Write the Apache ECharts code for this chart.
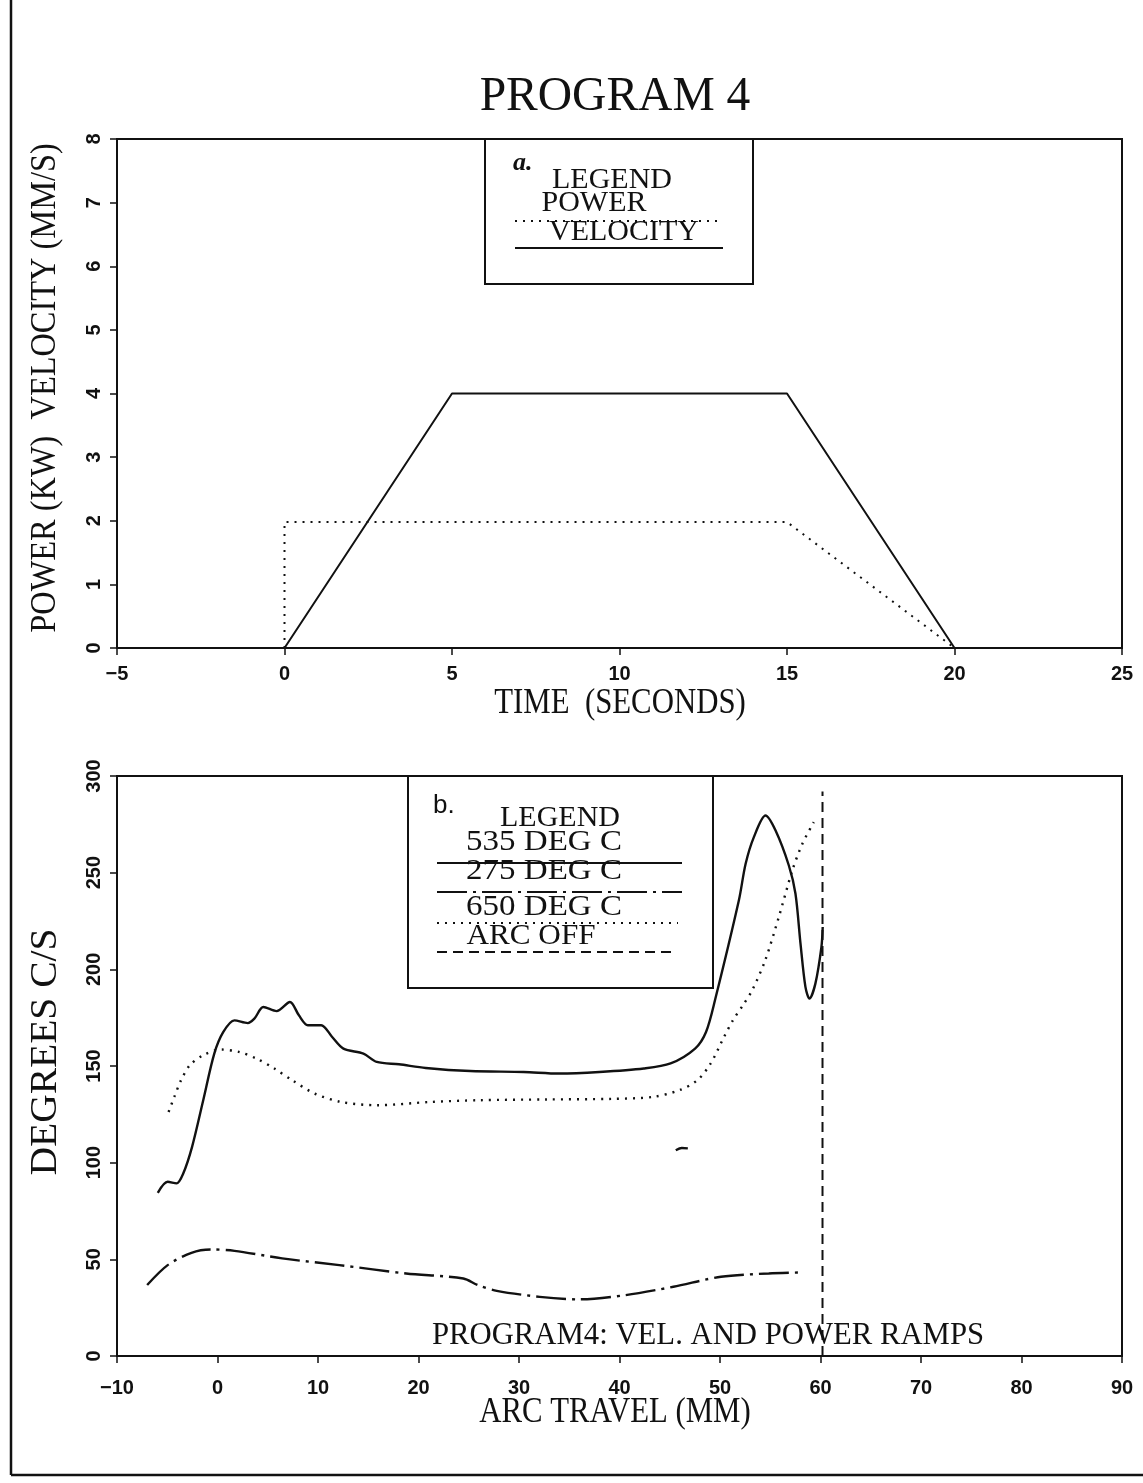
<!DOCTYPE html>
<html>
<head>
<meta charset="utf-8">
<script src="https://cdn.jsdelivr.net/npm/echarts@6/dist/echarts.min.js"></script>
<style>
  html, body { margin: 0; padding: 0; background: #fff; }
  #chart { width: 1143px; height: 1483px; }
</style>
</head>
<body>
<div id="chart"></div>
<script>
// ---- Panel a: ramp program (time in seconds) ----
const velocityPts = [[0, 0], [5, 4], [15, 4], [20, 0]];
const powerPts = [[0, 0], [0, 1.98], [15, 1.98], [20, 0]];

// ---- Panel b: cooling rate vs arc travel ----
const deg535 = [
  [-5.94, 84.4], [-4.96, 90.1], [-4.08, 89.3], [-3.41, 94.4], [-2.53, 108.2],
  [-1.42, 132.3], [-0.32, 156.4], [0.58, 167.6], [1.68, 173.6], [3.01, 172.2],
  [3.67, 174.5], [4.56, 180.5], [5.88, 178.4], [7.21, 183.1], [8.10, 176.2],
  [8.99, 171.1], [10.32, 171.1], [11.41, 165.0], [12.53, 159.0], [14.52, 156.4],
  [15.85, 152.1], [18.06, 150.9], [20.72, 149.0], [25.15, 147.4], [30.46, 146.9],
  [34.01, 146.1], [38.0, 146.9], [42.42, 148.7], [45.08, 151.3], [47.52, 159.0],
  [48.61, 167.6], [49.50, 184.0], [51.88, 235.7], [52.55, 254.6], [53.37, 268.4],
  [54.53, 279.6], [55.53, 271.8], [56.85, 253.7], [57.51, 239.1], [58.01, 213.3],
  [58.50, 190.9], [58.90, 184.9], [59.49, 192.6], [60.09, 211.5], [60.22, 221.9]
];
const deg535Fragment = [[45.6, 106.4], [46.2, 107.6], [46.8, 107.4]];
const deg275 = [
  [-7.0, 36.7], [-4.96, 47.0], [-2.59, 53.4], [-0.69, 55.1], [1.69, 54.4],
  [6.43, 50.5], [12.12, 47.0], [18.77, 42.7], [24.46, 40.1], [25.89, 36.7],
  [27.79, 33.7], [32.06, 30.6], [35.86, 29.3], [40.60, 31.5], [45.36, 35.8],
  [50.10, 41.0], [54.85, 42.7], [58.17, 43.2]
];
const deg650 = [
  [-4.87, 126.2], [-4.30, 134.0], [-3.63, 142.6], [-2.75, 150.4], [-1.42, 155.6],
  [0.35, 158.5], [2.12, 157.3], [3.90, 153.8], [5.66, 148.7], [7.44, 142.6],
  [9.65, 135.8], [12.30, 131.4], [15.85, 129.7], [21.17, 131.4], [26.04, 132.3],
  [32.68, 132.7], [39.32, 133.0], [43.31, 134.0], [45.97, 137.5], [47.74, 142.6],
  [49.07, 151.3], [50.40, 165.0], [51.28, 173.6], [52.38, 182.2], [53.2, 189.1],
  [54.5, 204.7], [55.85, 227.0], [57.2, 251.2], [58.2, 265.0], [59.33, 276.1]
];
const arcOff = [[60.2, 0], [60.2, 292]];

const SERIF = '"Liberation Serif", "Times New Roman", serif';
const SANS = '"Liberation Sans", Arial, sans-serif';
const INK = '#111';

const chart = echarts.init(document.getElementById('chart'), null, { renderer: 'canvas' });

// tick numbers use a true minus sign
const minusFmt = v => String(v).replace('-', '\u2212');

function axisCommon(min, max, interval, isY) {
  return {
    type: 'value', min: min, max: max, interval: interval,
    splitLine: { show: false },
    axisLine: { show: true, onZero: false, lineStyle: { color: INK, width: 2 } },
    axisTick: { show: true, inside: false, length: 7, lineStyle: { color: INK, width: 1.5 } },
    axisLabel: {
      color: INK, fontFamily: SANS, fontSize: 20, fontWeight: 'bold',
      formatter: minusFmt,
      rotate: isY ? 90 : 0,
      margin: isY ? 13 : 16
    }
  };
}

function label(text, x, y, size, opts) {
  opts = opts || {};
  return {
    type: 'text', x: x, y: y, z: 100,
    rotation: opts.rotation || 0,
    scaleX: opts.scaleX || 1,
    style: {
      text: text,
      font: (opts.style || 'normal') + ' ' + (opts.weight || 'normal') + ' ' + size + 'px ' + (opts.family || SERIF),
      fill: INK,
      align: opts.align || 'center',
      verticalAlign: 'middle'
    }
  };
}

function rule(x1, x2, y, dash) {
  return {
    type: 'line', z: 100,
    shape: { x1: x1, y1: y, x2: x2, y2: y },
    style: { stroke: INK, lineWidth: 2, lineDash: dash || null }
  };
}

const DOTTED = [2, 6];
const DASHDOT = [30, 6, 3, 6];
const DASHED = [10, 6];

const xTop = Object.assign(axisCommon(-5, 25, 5, false), { gridIndex: 0 });
const xBot = Object.assign(axisCommon(-10, 90, 10, false), { gridIndex: 1 });
xBot.axisLabel.margin = 22;

chart.setOption({
  backgroundColor: '#fff',
  animation: false,
  grid: [
    { left: 117, top: 139, width: 1005, height: 509, show: true, borderColor: INK, borderWidth: 2, containLabel: false },
    { left: 117, top: 776, width: 1005, height: 580, show: true, borderColor: INK, borderWidth: 2, containLabel: false }
  ],
  xAxis: [xTop, xBot],
  yAxis: [
    Object.assign(axisCommon(0, 8, 1, true), { gridIndex: 0 }),
    Object.assign(axisCommon(0, 300, 50, true), { gridIndex: 1 })
  ],
  series: [
    {
      name: 'VELOCITY', type: 'line', xAxisIndex: 0, yAxisIndex: 0,
      data: velocityPts, symbol: 'none', lineStyle: { color: INK, width: 2 }
    },
    {
      name: 'POWER', type: 'line', xAxisIndex: 0, yAxisIndex: 0,
      data: powerPts, symbol: 'none', lineStyle: { color: INK, width: 2, type: DOTTED }
    },
    {
      name: '535 DEG C', type: 'line', xAxisIndex: 1, yAxisIndex: 1,
      data: deg535, symbol: 'none', smooth: 0.3, lineStyle: { color: INK, width: 2.4 }
    },
    {
      name: '535 DEG C', type: 'line', xAxisIndex: 1, yAxisIndex: 1,
      data: deg535Fragment, symbol: 'none', smooth: 0.3, lineStyle: { color: INK, width: 2.4 }
    },
    {
      name: '275 DEG C', type: 'line', xAxisIndex: 1, yAxisIndex: 1,
      data: deg275, symbol: 'none', smooth: 0.3, lineStyle: { color: INK, width: 2.4, type: DASHDOT }
    },
    {
      name: '650 DEG C', type: 'line', xAxisIndex: 1, yAxisIndex: 1,
      data: deg650, symbol: 'none', smooth: 0.3, lineStyle: { color: INK, width: 2.4, type: DOTTED }
    },
    {
      name: 'ARC OFF', type: 'line', xAxisIndex: 1, yAxisIndex: 1,
      data: arcOff, symbol: 'none', lineStyle: { color: INK, width: 2, type: DASHED }
    }
  ],
  graphic: [
    // page frame
    { type: 'line', shape: { x1: 11, y1: 0, x2: 11, y2: 1475 }, style: { stroke: INK, lineWidth: 2.5 } },
    { type: 'line', shape: { x1: 11, y1: 1475, x2: 1143, y2: 1475 }, style: { stroke: INK, lineWidth: 2.5 } },

    label('PROGRAM 4', 615, 97, 48, { scaleX: 0.99 }),

    // panel a axis titles
    label('TIME  (SECONDS)', 620, 704, 35, { scaleX: 0.88 }),
    label('POWER (KW)  VELOCITY (MM/S)', 46, 388, 36, { rotation: Math.PI / 2, scaleX: 0.9 }),

    // panel a legend box
    { type: 'rect', z: 90, shape: { x: 485, y: 139, width: 268, height: 145 }, style: { fill: '#fff', stroke: INK, lineWidth: 2 } },
    label('a.', 513, 163, 26, { style: 'italic', weight: 'bold', align: 'left' }),
    label('LEGEND', 612, 180, 30),
    label('POWER', 594, 203, 30),
    rule(515, 720, 221, DOTTED),
    label('VELOCITY', 624, 232, 30),
    rule(515, 723, 248),

    // panel b axis titles
    label('ARC TRAVEL (MM)', 615, 1413, 35, { scaleX: 0.88 }),
    label('DEGREES C/S', 46, 1052, 38, { rotation: Math.PI / 2, scaleX: 1.04 }),

    // panel b legend box
    { type: 'rect', z: 90, shape: { x: 408, y: 776, width: 305, height: 212 }, style: { fill: '#fff', stroke: INK, lineWidth: 2 } },
    label('b.', 433, 806, 26, { family: SANS, align: 'left' }),
    label('LEGEND', 560, 818, 30),
    label('535 DEG C', 544, 842, 30, { scaleX: 1.1 }),
    rule(437, 682, 863),
    label('275 DEG C', 544, 871, 30, { scaleX: 1.1 }),
    rule(437, 682, 892, DASHDOT),
    label('650 DEG C', 544, 907, 30, { scaleX: 1.1 }),
    rule(437, 678, 923, DOTTED),
    label('ARC OFF', 531, 936, 30, { scaleX: 1.04 }),
    rule(437, 677, 952, DASHED),

    label('PROGRAM4: VEL. AND POWER RAMPS', 708, 1336, 32, { scaleX: 0.96 })
  ]
});
</script>
</body>
</html>
